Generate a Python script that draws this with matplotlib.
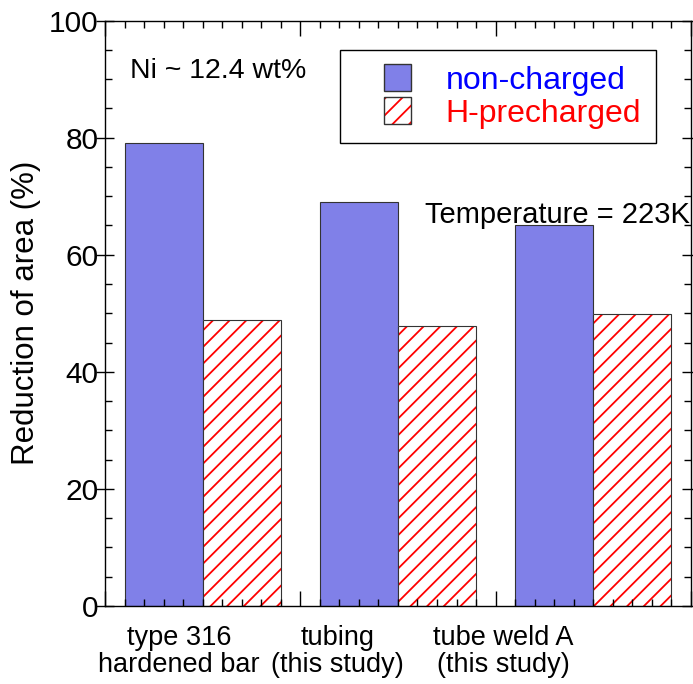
import matplotlib
matplotlib.use("Agg")
import matplotlib.pyplot as plt
from matplotlib.patches import Rectangle, Patch
from matplotlib.legend_handler import HandlerBase
from matplotlib.ticker import MultipleLocator, NullFormatter

plt.rcParams["font.family"] = ["Liberation Sans", "DejaVu Sans"]
plt.rcParams["hatch.color"] = "red"
plt.rcParams["hatch.linewidth"] = 1.3

# Reduction of area (%) for each material
materials = ["type 316\nhardened bar", "tubing\n(this study)", "tube weld A\n(this study)"]
label_pos = [0.38, 1.19, 2.04]
non_charged = [79, 69, 65]
h_precharged = [48.8, 47.8, 49.8]

BLUE = "#8080e8"


class SquareHandler(HandlerBase):
    """Square legend key centred in the handle box."""

    def create_artists(self, legend, orig_handle, xdescent, ydescent,
                       width, height, fontsize, trans):
        side = height
        x0 = -xdescent + (width - side) / 2
        y0 = -ydescent
        fill = Rectangle((x0, y0), side, side,
                         facecolor=orig_handle.get_facecolor(),
                         hatch=orig_handle.get_hatch(),
                         linewidth=0, transform=trans)
        edge = Rectangle((x0, y0), side, side, fill=False,
                         edgecolor="#333333", linewidth=1.0, transform=trans)
        return [fill, edge]


fig = plt.figure(figsize=(6.93, 6.84), dpi=100)
ax = fig.add_axes([0.1515, 0.114, 0.8455, 0.856])

x_left = [i + 0.1 for i in range(len(materials))]
x_right = [i + 0.5 for i in range(len(materials))]

ax.bar(x_left, non_charged, width=0.4, align="edge", color=BLUE,
       edgecolor="#333333", linewidth=0.8, zorder=1)
ax.bar(x_right, h_precharged, width=0.4, align="edge", color="white",
       hatch="//", linewidth=0, zorder=1)
ax.bar(x_right, h_precharged, width=0.4, align="edge", fill=False,
       edgecolor="#333333", linewidth=0.8, zorder=1.1)

ax.set_xlim(0, 3)
ax.set_ylim(0, 100)

ax.xaxis.set_major_locator(MultipleLocator(1))
ax.xaxis.set_minor_locator(MultipleLocator(0.1))
ax.xaxis.set_major_formatter(NullFormatter())
ax.yaxis.set_major_locator(MultipleLocator(20))
ax.yaxis.set_minor_locator(MultipleLocator(5))

ax.tick_params(axis="x", which="both", direction="in", top=True, bottom=True)
ax.tick_params(axis="x", which="major", length=11, width=1.0)
ax.tick_params(axis="x", which="minor", length=5, width=1.0)
ax.tick_params(axis="y", which="both", left=True, right=True)
ax.tick_params(axis="y", which="major", direction="inout", length=13,
               width=1.0, labelsize=21.5, pad=-2)
ax.tick_params(axis="y", which="minor", direction="in", length=5, width=1.0)
for s in ax.spines.values():
    s.set_linewidth(1.0)

for x, name in zip(label_pos, materials):
    ax.text(x, -0.033, name, transform=ax.get_xaxis_transform(),
            ha="center", va="top", fontsize=19.5, linespacing=1.05)

ax.set_ylabel("Reduction of area (%)", fontsize=22.5, labelpad=6)

ax.text(0.128, 90.1, "Ni ~ 12.4 wt%", fontsize=20.5, va="baseline")
ax.text(1.64, 65.4, "Temperature = 223K", fontsize=21, va="baseline")

handles = [Patch(facecolor=BLUE), Patch(facecolor="white", hatch="//")]
leg = ax.legend(handles, ["non-charged", "H-precharged"],
                handler_map={Patch: SquareHandler()},
                loc="upper left", bbox_to_anchor=(0.401, 0.9505),
                fontsize=23, labelcolor=["blue", "red"],
                handlelength=2.7, handleheight=0.94, handletextpad=0.16,
                borderpad=0.45, labelspacing=0.05, borderaxespad=0,
                fancybox=False, framealpha=1, edgecolor="black")
leg.get_frame().set_linewidth(1.0)

fig.savefig("out.png", dpi=100)
